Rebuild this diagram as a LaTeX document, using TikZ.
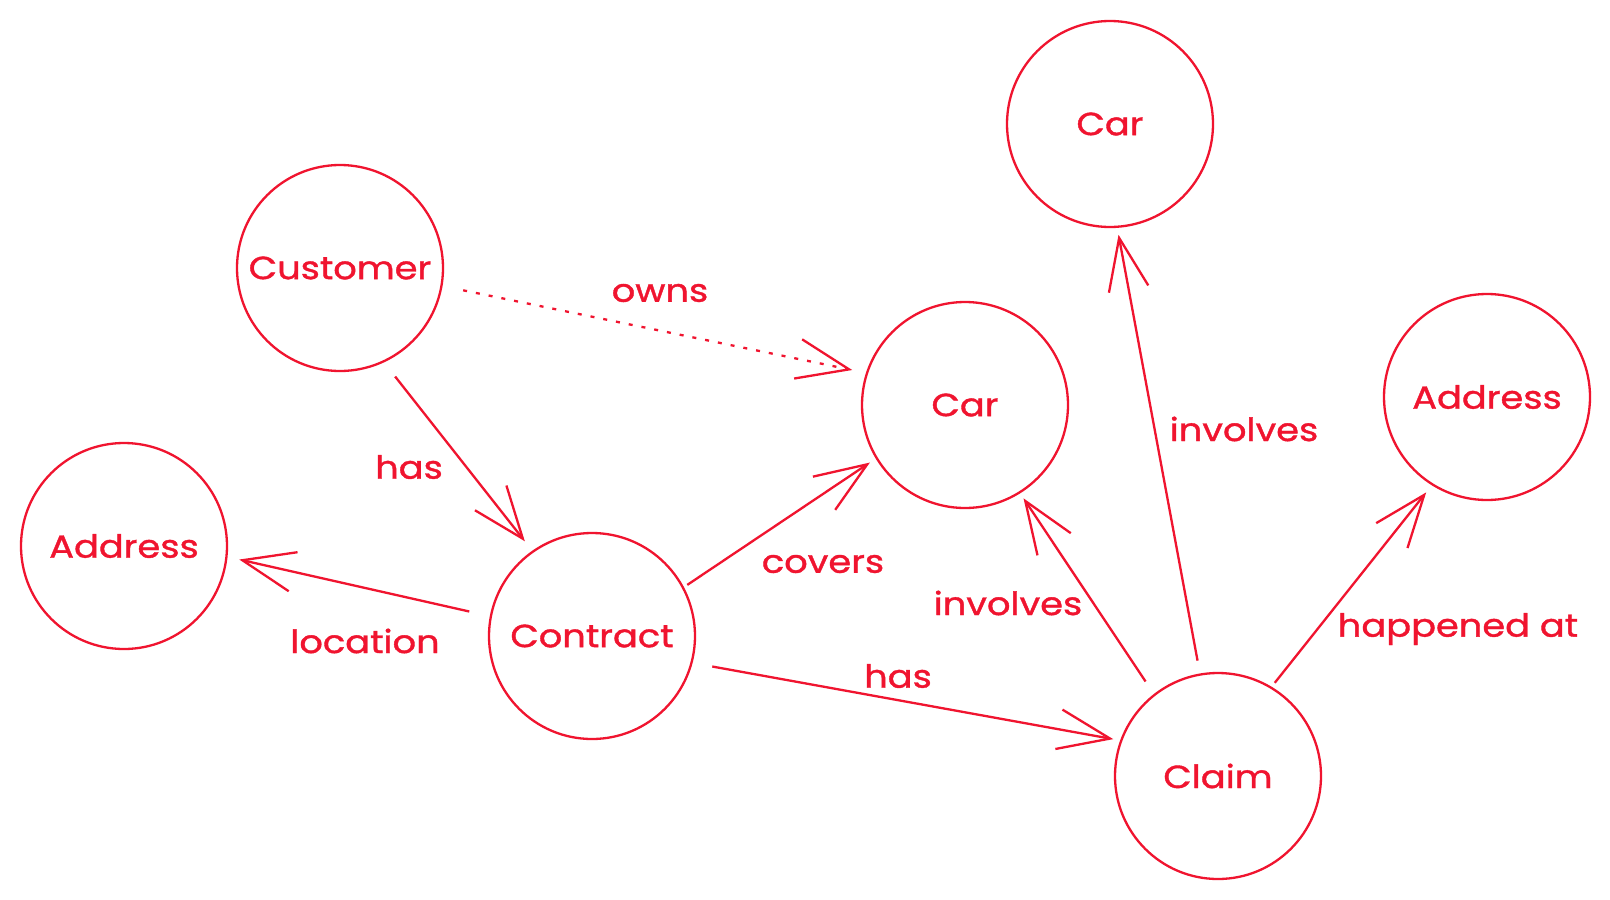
\documentclass[tikz,border=0pt]{standalone}
\usepackage{fontspec}
\setmainfont[FakeStretch=1.15,FakeBold=1.2]{Poppins}
\usetikzlibrary{arrows.meta}
\definecolor{exred}{HTML}{F0142F}
\begin{document}
\begin{tikzpicture}[x=1pt,y=-1pt,
  ent/.style={circle,draw=exred,line width=2.3pt,minimum size=206pt,inner sep=0pt,text=exred,font=\fontsize{32}{38}\selectfont},
  lbl/.style={text=exred,font=\fontsize{32}{38}\selectfont,inner sep=0pt},
  conn/.style={draw=exred,line width=2.3pt,-{Straight Barb[length=52pt,width=40pt,line width=2.3pt]}},
  dotconn/.style={conn,dash pattern=on 4pt off 9pt},
]
\useasboundingbox[fill=white] (0,0) rectangle (1610,900);
% entities
\node[ent] (cust) at (340,268) {Customer};
\node[ent] (addrL) at (124,546) {Address};
\node[ent] (contract) at (592,636) {Contract};
\node[ent] (carM) at (965,405) {Car};
\node[ent] (carT) at (1110,124) {Car};
\node[ent] (addrR) at (1487,397) {Address};
\node[ent] (claim) at (1218,776) {Claim};
% connectors
\draw[dotconn,shorten <=21pt,shorten >=14pt] (cust.-10) -- (carM.162);
\draw[conn,shorten <=18pt,shorten >=12pt] (cust.-65.6) -- (contract.125);
\draw[conn,shorten <=21pt,shorten >=12pt] (contract.169) -- (addrL.-6.5);
\draw[conn,shorten <=4pt,shorten >=7pt] (contract.28.5) -- (carM.211);
\draw[conn,shorten <=20pt,shorten >=7pt] (contract.-15.5) -- (claim.160.4);
\draw[conn,shorten <=15pt,shorten >=6pt] (claim.128) -- (carM.-58.5);
\draw[conn,shorten <=13pt,shorten >=7pt] (claim.100.9) -- (carT.-86.4);
\draw[conn,shorten <=5pt,shorten >=9pt] (claim.59.4) -- (addrR.238.9);
% labels
\node[lbl] (l1) at (660,293) {owns};
\node[lbl] (l2) at (409,467) {has};
\node[lbl] (l3) at (365,641) {location};
\node[lbl] (l4) at (823,564) {covers};
\node[lbl] (l5) at (898,676) {has};
\node[lbl] (l6) at (1008,603) {involves};
\node[lbl] (l7) at (1244,429) {involves};
\node[lbl] (l8) at (1458,629) {happened at};
\end{tikzpicture}
\end{document}
